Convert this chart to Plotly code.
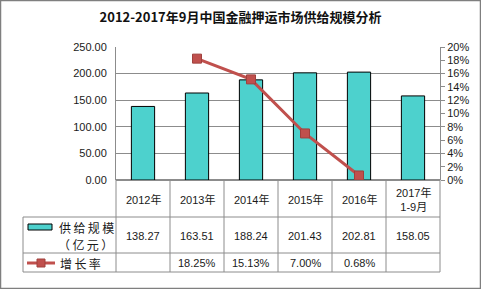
import plotly.graph_objects as go

years = ["2012年", "2013年", "2014年", "2015年", "2016年", "2017年<br>1-9月"]
supply = [138.27, 163.51, 188.24, 201.43, 202.81, 158.05]
growth = [None, 18.25, 15.13, 7.00, 0.68, None]
supply_labels = ["138.27", "163.51", "188.24", "201.43", "202.81", "158.05"]
growth_labels = ["", "18.25%", "15.13%", "7.00%", "0.68%", ""]
left_ticks = [0, 50, 100, 150, 200, 250]
right_ticks = list(range(0, 21, 2))

W, H = 481, 289
L, R, T, B = 116, 41, 47, 109
PW, PH = W - L - R, H - T - B
BOTTOM = T + PH

def px(x):
    return (x - L) / PW

def py(y):
    return (BOTTOM - y) / PH

FONT = "Liberation Sans, Noto Sans CJK SC, sans-serif"
CJK = "Noto Sans CJK SC, sans-serif"
BAR = "#4DD1CD"
RED = "#C0504D"
GRID = "#8C8C8C"
SP = "\u2009"

xs = list(range(len(years)))
fig = go.Figure()
fig.add_bar(x=xs, y=supply, width=0.43, marker=dict(color=BAR, line=dict(color="black", width=1)),
            name="供给规模（亿元）", showlegend=False)
fig.add_scatter(x=xs, y=growth, yaxis="y2", mode="lines+markers",
                line=dict(color=RED, width=3),
                marker=dict(symbol="square", size=9, color=RED, line=dict(color="#A0403D", width=1)),
                name="增长率", showlegend=False)

shapes = []
ann = []

def line(x0, y0, x1, y1, color=GRID, w=1):
    shapes.append(dict(type="line", xref="paper", yref="paper", x0=px(x0), y0=py(y0), x1=px(x1), y1=py(y1),
                       line=dict(color=color, width=w)))

# outer border
shapes.append(dict(type="rect", xref="paper", yref="paper", x0=px(0.5), y0=py(H - 0.5), x1=px(W - 0.5), y1=py(0.5),
                   line=dict(color="#7F7F7F", width=1.5)))

# table
cols = [L + i * PW / 6 for i in range(7)]
row_y = [BOTTOM, 217, 253, 272]
for c in cols:
    line(c, BOTTOM, c, 272)
line(23, 217, 23, 272)
for ry in row_y[1:]:
    line(23, ry, cols[-1], ry)

for i in range(6):
    cx = (cols[i] + cols[i + 1]) / 2
    ann.append(dict(x=px(cx), y=py(199), text=years[i]))
    ann.append(dict(x=px(cx), y=py(236), text=supply_labels[i]))
    ann.append(dict(x=px(cx), y=py(263), text=growth_labels[i]))

# legend cells
shapes.append(dict(type="rect", xref="paper", yref="paper", x0=px(28), y0=py(230), x1=px(52), y1=py(224),
                   fillcolor=BAR, line=dict(color="black", width=1)))
ann.append(dict(x=px(86), y=py(227), text=SP.join("供给规模"), font=dict(family=CJK, size=12, color="#1a1a1a")))
ann.append(dict(x=px(85), y=py(244), text=SP.join("（亿元）"), font=dict(family=CJK, size=12, color="#1a1a1a")))
line(27, 263, 55, 263, color=RED, w=3)
shapes.append(dict(type="rect", xref="paper", yref="paper", x0=px(37), y0=py(267), x1=px(45), y1=py(259),
                   fillcolor=RED, line=dict(color="#A0403D", width=1)))
ann.append(dict(x=px(80), y=py(263), text=SP.join("增长率"), font=dict(family=CJK, size=12, color="#1a1a1a")))

for a in ann:
    a.update(xref="paper", yref="paper", showarrow=False, xanchor="center", yanchor="middle")
    a.setdefault("font", dict(family=FONT, size=11, color="#1a1a1a"))

fig.update_layout(
    width=W, height=H,
    margin=dict(l=L, r=R, t=T, b=B),
    paper_bgcolor="white", plot_bgcolor="white",
    title=dict(text="<b>2012-2017年9月中国金融押运市场供给规模分析</b>", x=0.5, xanchor="center",
               y=1 - 17 / H, yanchor="middle", font=dict(family=CJK, size=13, color="#111")),
    xaxis=dict(range=[-0.5, 5.5], showticklabels=False, showgrid=False, zeroline=False, ticks="",
               showline=False, fixedrange=True, tickvals=xs),
    yaxis=dict(range=[0, 250], tickvals=left_ticks, ticktext=[f"{v:.2f}" for v in left_ticks],
               showgrid=True, gridcolor=GRID, gridwidth=1, showline=True, linecolor=GRID, linewidth=1,
               zeroline=True, zerolinecolor=GRID, zerolinewidth=2,
               ticks="outside", ticklen=6, tickcolor="rgba(0,0,0,0)",
               tickfont=dict(family=FONT, size=11, color="#1a1a1a")),
    yaxis2=dict(range=[0, 20], overlaying="y", side="right", tickvals=right_ticks,
                ticktext=[f"{v}%" for v in right_ticks], showgrid=False, zeroline=False,
                showline=True, linecolor=GRID, linewidth=1, ticks="outside", ticklen=4, tickcolor=GRID,
                tickfont=dict(family=FONT, size=11, color="#1a1a1a")),
    shapes=shapes, annotations=ann, bargap=0.5,
)

fig.write_html("out.html")
